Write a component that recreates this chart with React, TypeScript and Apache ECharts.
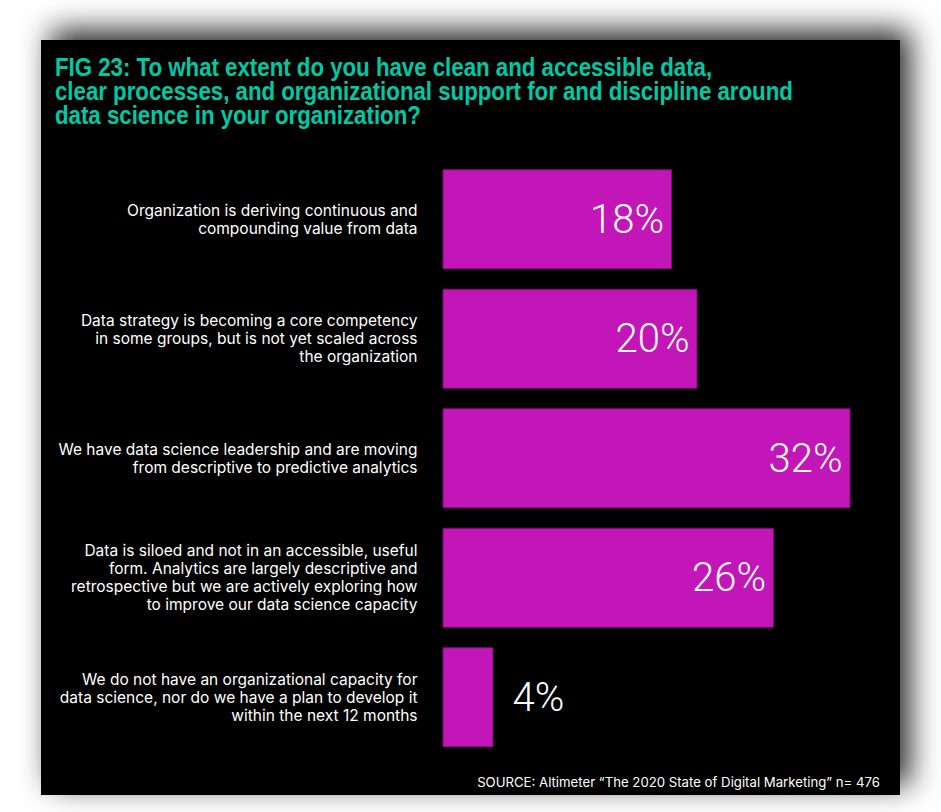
import React, { useEffect, useRef } from "react";
import * as echarts from "echarts";

const categories = [
  "Organization is deriving continuous and\ncompounding value from data",
  "Data strategy is becoming a core competency\nin some groups, but is not yet scaled across\nthe organization",
  "We have data science leadership and are moving\nfrom descriptive to predictive analytics",
  "Data is siloed and not in an accessible, useful\nform. Analytics are largely descriptive and\nretrospective but we are actively exploring how\nto improve our data science capacity",
  "We do not have an organizational capacity for\ndata science, nor do we have a plan to develop it\nwithin the next 12 months",
];
const values = [18, 20, 32, 26, 4];
const titleText =
  "FIG 23: To what extent do you have clean and accessible data,\nclear processes, and organizational support for and discipline around\ndata science in your organization?";
const sourceText = "SOURCE: Altimeter \u201CThe 2020 State of Digital Marketing\u201D n= 476";

export default function App() {
  const ref = useRef<HTMLDivElement>(null);
  useEffect(() => {
    if (!ref.current) return;
    const chart = echarts.init(ref.current, null, { renderer: "svg" });
    chart.setOption({
      animation: false,
      backgroundColor: "#ffffff",
      graphic: [
        {
          type: "rect",
          z: -10,
          shape: { x: 41, y: 40, width: 859, height: 755 },
          style: {
            fill: "#000000",
            shadowBlur: 30,
            shadowColor: "rgba(0,0,0,0.85)",
            shadowOffsetX: 10,
            shadowOffsetY: -10,
          },
        },
        {
          type: "text",
          z: 10,
          x: 55,
          y: 56,
          scaleX: 0.89,
          style: {
            text: titleText,
            fill: "#00C9A5",
            fontSize: 25,
            fontWeight: "bold",
            fontFamily: "Liberation Sans",
            lineHeight: 24,
            verticalAlign: "top",
          },
        },
        {
          type: "text",
          z: 10,
          style: {
            text: sourceText,
            x: 880,
            y: 782,
            align: "right",
            verticalAlign: "middle",
            fill: "#ffffff",
            fontSize: 13.2,
            fontFamily: "Inter",
          },
        },
      ],
      grid: { left: 442.5, right: 39.5, top: 159.5, bottom: 55, containLabel: false },
      xAxis: { type: "value", min: 0, max: 36, show: false },
      yAxis: {
        type: "category",
        inverse: true,
        data: categories,
        axisLine: { show: false },
        axisTick: { show: false },
        axisLabel: {
          color: "#ffffff",
          fontSize: 15.5,
          lineHeight: 18,
          margin: 25,
          fontFamily: "Inter",
          align: "right",
        },
      },
      series: [
        {
          type: "bar",
          barWidth: 100,
          data: values.map((v) => ({
            value: v,
            label:
              v < 8
                ? { position: "right", distance: 19 }
                : { position: "insideRight", distance: 8 },
          })),
          itemStyle: { color: "#C316B8", borderColor: "#7a0c73", borderWidth: 1 },
          label: {
            show: true,
            formatter: "{c}%",
            color: "#ffffff",
            fontSize: 40,
            fontWeight: 300,
            fontFamily: "Roboto",
          },
        },
      ],
    });
    return () => chart.dispose();
  }, []);
  return (
    <div
      ref={ref}
      style={{ position: "absolute", left: 0, top: 0, width: 941, height: 812 }}
    />
  );
}
